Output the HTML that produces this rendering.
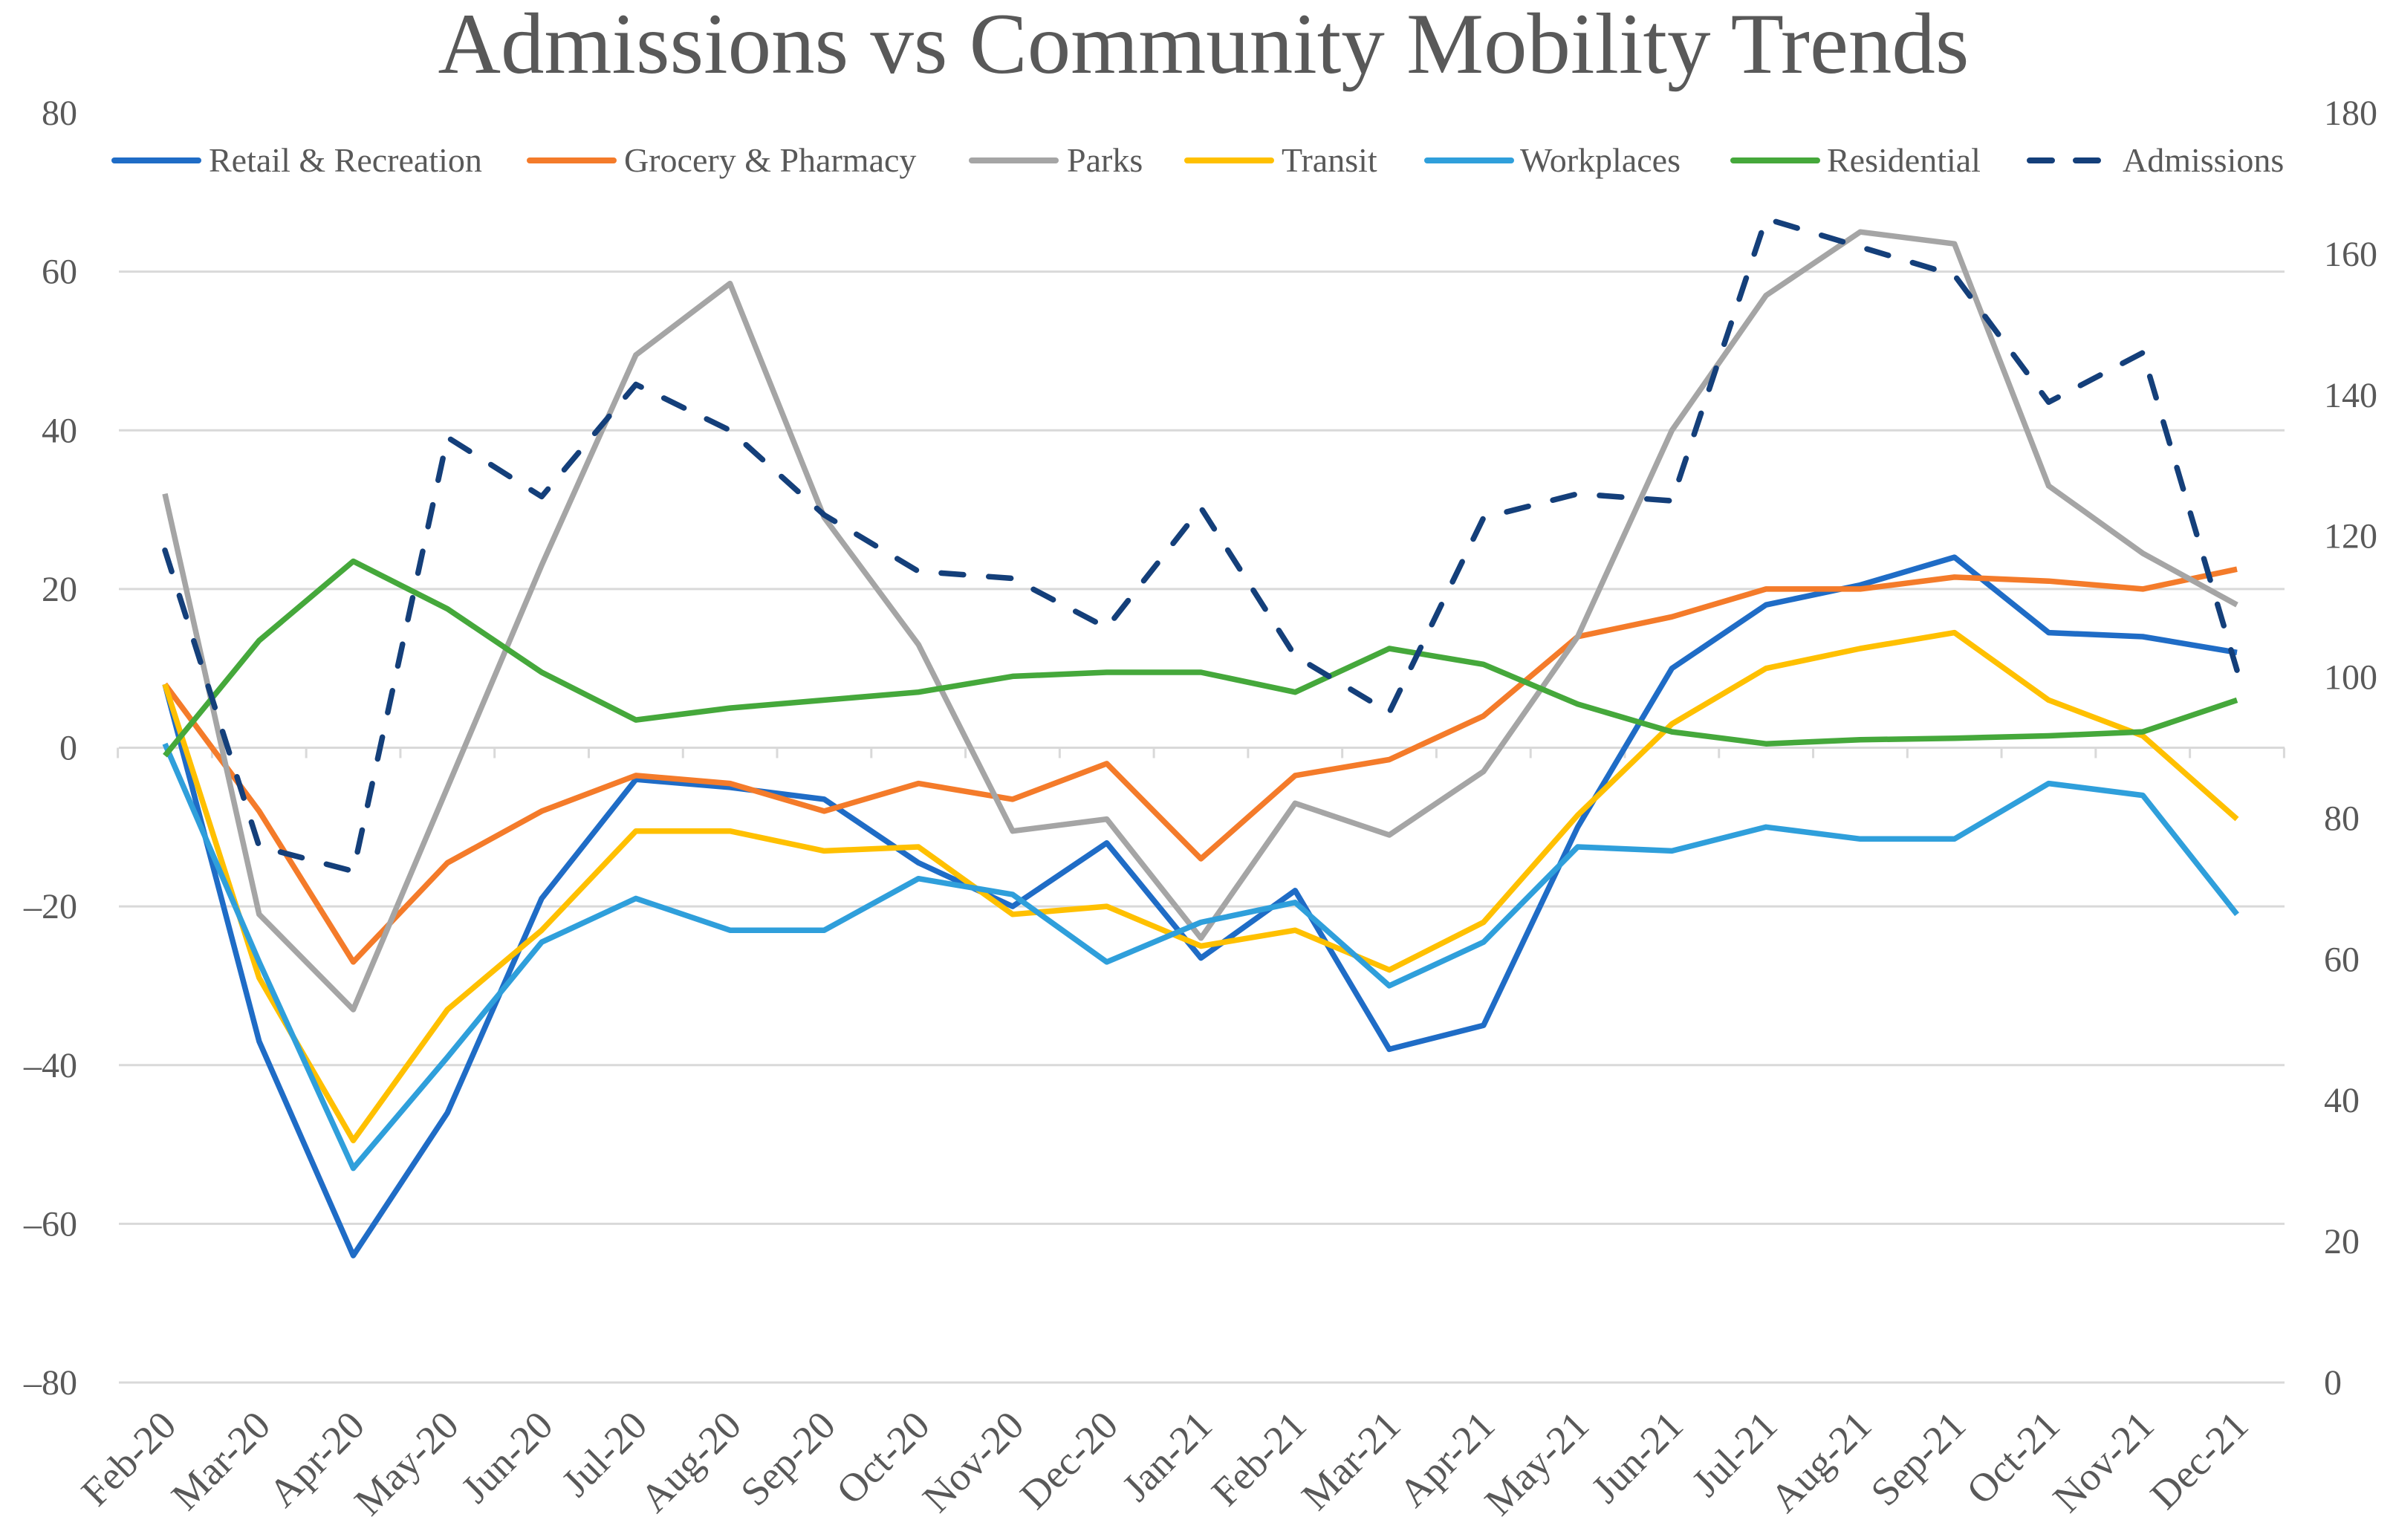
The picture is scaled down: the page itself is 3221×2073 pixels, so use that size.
<!DOCTYPE html>
<html><head><meta charset="utf-8"><style>
html,body{margin:0;padding:0;background:#fff;}
svg{display:block;font-family:"Liberation Serif",serif;}
</style></head><body>
<svg id="chart" width="3221" height="2073" viewBox="0 0 3221 2073" xmlns="http://www.w3.org/2000/svg">
<rect width="3221" height="2073" fill="#fff"/>
<text x="1620" y="98" text-anchor="middle" font-size="117" fill="#595959">Admissions vs Community Mobility Trends</text>
<g id="grid"></g><g id="axes"></g><g id="legend"></g><g id="series"></g>
</svg>
<script>
const categories=["Feb-20","Mar-20","Apr-20","May-20","Jun-20","Jul-20","Aug-20","Sep-20","Oct-20","Nov-20","Dec-20","Jan-21","Feb-21","Mar-21","Apr-21","May-21","Jun-21","Jul-21","Aug-21","Sep-21","Oct-21","Nov-21","Dec-21"];
const retail=[8,-37,-64,-46,-19,-4,-5,-6.5,-14.5,-20,-12,-26.5,-18,-38,-35,-10,10,18,20.5,24,14.5,14,12];
const grocery=[8,-8,-27,-14.5,-8,-3.5,-4.5,-8,-4.5,-6.5,-2,-14,-3.5,-1.5,4,14,16.5,20,20,21.5,21,20,22.5];
const parks=[32,-21,-33,-5,23,49.5,58.5,29,13,-10.5,-9,-24,-7,-11,-3,14,40,57,65,63.5,33,24.5,18];
const transit=[8,-29,-49.5,-33,-23,-10.5,-10.5,-13,-12.5,-21,-20,-25,-23,-28,-22,-8.5,3,10,12.5,14.5,6,1.5,-9];
const workplaces=[0.5,-27,-53,-39,-24.5,-19,-23,-23,-16.5,-18.5,-27,-22,-19.5,-30,-24.5,-12.5,-13,-10,-11.5,-11.5,-4.5,-6,-21];
const residential=[-1,13.5,23.5,17.5,9.5,3.5,5,6,7,9,9.5,9.5,7,12.5,10.5,5.5,2,0.5,1,1.2,1.5,2,6];
const admissions=[118,76,72.5,134,125.6,141.5,135,123,115,114,107,124,103,95,122.6,126,125,165,161,157,139,146,101];
const leftTicks=[80,60,40,20,0,-20,-40,-60,-80];
const rightTicks=[180,160,140,120,100,80,60,40,20,0];

const NS="http://www.w3.org/2000/svg";
const X0=222,X1=3011,L=160,R=3075,YT=152,YB=1861;
const x=i=>X0+(X1-X0)*i/(categories.length-1);
const yL=v=>YB-(v+80)/160*(YB-YT);
const yR=v=>YB-v/180*(YB-YT);
function mk(tag,attrs,parent){const e=document.createElementNS(NS,tag);for(const k in attrs)e.setAttribute(k,attrs[k]);parent.appendChild(e);return e;}
const grid=document.getElementById('grid'),axes=document.getElementById('axes'),leg=document.getElementById('legend'),ser=document.getElementById('series');

leftTicks.forEach(t=>{
  if(t!==80&&t!==0){const g=mk('line',{x1:L,x2:R,y1:yL(t),y2:yL(t),stroke:'#d9d9d9','stroke-width':3},grid);
  
  }
  const tx=mk('text',{x:104,y:yL(t)+16,'text-anchor':'end','font-size':48,fill:'#595959'},axes);
  tx.textContent=(t<0?'\u2013'+(-t):t);
  
  
});
rightTicks.forEach(t=>{
  const tx=mk('text',{x:3128,y:yR(t)+16,'font-size':48,fill:'#595959'},axes);
  tx.textContent=t;
  
  
});
const ax=mk('line',{x1:L,x2:R,y1:yL(0),y2:yL(0),stroke:'#d9d9d9','stroke-width':3},axes);


const step=(X1-X0)/(categories.length-1);
for(let i=0;i<=categories.length;i++){
  const tk=mk('line',{x1:X0-step/2+i*step,x2:X0-step/2+i*step,y1:yL(0),y2:yL(0)+14,stroke:'#d9d9d9','stroke-width':3},axes);
  
  
}
categories.forEach((c,i)=>{
  const tx=mk('text',{x:0,y:0,'text-anchor':'end','font-size':54,fill:'#595959',transform:`translate(${x(i)+18},${1922}) rotate(-45)`},axes);
  tx.textContent=c;
  
  
});

const seriesDefs=[
 {name:'Retail & Recreation',data:retail,color:'#1f6cc6',lx:154,tx:281,key:'retail'},
 {name:'Grocery & Pharmacy',data:grocery,color:'#f47b2a',lx:713,tx:840,key:'grocery'},
 {name:'Parks',data:parks,color:'#a5a5a5',lx:1308,tx:1436,key:'parks'},
 {name:'Transit',data:transit,color:'#ffc000',lx:1598,tx:1725,key:'transit'},
 {name:'Workplaces',data:workplaces,color:'#2f9fdb',lx:1921,tx:2046,key:'workplaces'},
 {name:'Residential',data:residential,color:'#45a83b',lx:2333,tx:2459,key:'residential'},
 {name:'Admissions',data:admissions,color:'#143f7a',lx:2732,tx:2857,key:'admissions',dash:true}
];
seriesDefs.forEach(s=>{
  const ll=mk('line',{x1:s.lx,x2:s.lx+113,y1:216,y2:216,stroke:s.color,'stroke-width':8,'stroke-linecap':'round'},leg);
  if(s.dash)ll.setAttribute('stroke-dasharray','30 32');
  
  
  const t=mk('text',{x:s.tx,y:231,'font-size':46,fill:'#595959'},leg);
  t.textContent=s.name;
  
  
  const yf=s.dash?yR:yL;
  const pts=s.data.map((v,i)=>x(i).toFixed(1)+','+yf(v).toFixed(1)).join(' ');
  const p=mk('polyline',{points:pts,fill:'none',stroke:s.color,'stroke-width':7.5,'stroke-linejoin':'round','stroke-linecap':s.dash?'round':'butt'},ser);
  if(s.dash)p.setAttribute('stroke-dasharray','30 34');
  
  
});
</script>
</body></html>
